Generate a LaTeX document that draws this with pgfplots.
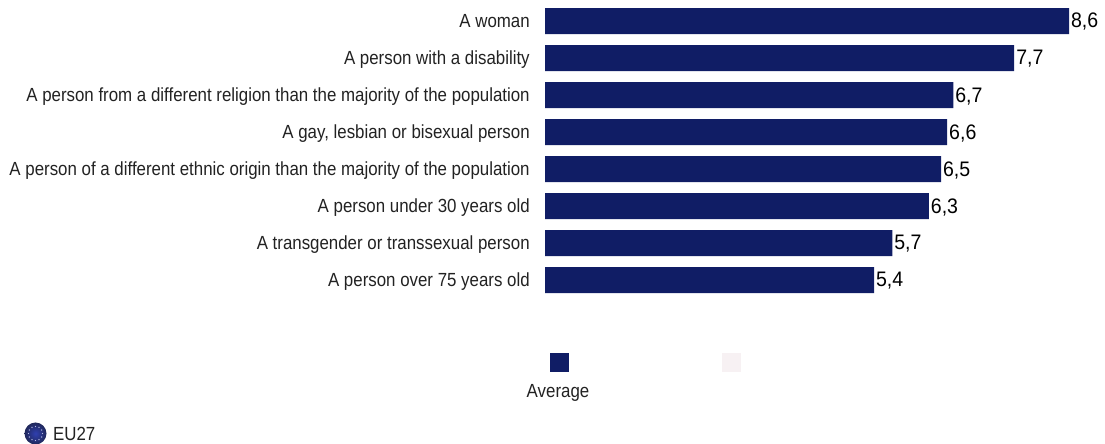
\documentclass[border=0pt]{standalone}
\usepackage{pgfplots}
\pgfplotsset{compat=1.18}
\usetikzlibrary{calc}
\usepackage{fontspec}
\setmainfont{Liberation Sans}
\definecolor{barnavy}{HTML}{101D65}
\definecolor{palepink}{HTML}{F7F1F3}
\definecolor{labelgrey}{HTML}{222222}
\definecolor{flagblue}{HTML}{2F3FB0}
\definecolor{flagedge}{HTML}{20285A}
\begin{document}
\begin{tikzpicture}[x=1pt,y=1pt]
% fixed page extent, origin at the bottom left
\path[use as bounding box] (0,0) rectangle (1105,444);
\begin{axis}[
  at={(545pt,144pt)}, anchor=south west,
  scale only axis, width=560pt, height=300pt,
  xbar, bar width=26pt, bar shift=0pt,
  xmin=0, xmax=9.19,
  y dir=reverse, ymin=-0.568, ymax=7.54,
  axis line style={draw=none},
  xtick=\empty,
  ytick={0,...,7},
  yticklabels={
    A woman,
    A person with a disability,
    A person from a different religion than the majority of the population,
    {A gay, lesbian or bisexual person},
    A person of a different ethnic origin than the majority of the population,
    A person under 30 years old,
    A transgender or transsexual person,
    A person over 75 years old},
  major tick length=0pt,
  yticklabel style={font=\fontsize{19}{22}\selectfont, text=labelgrey, xscale=0.888,
    inner sep=0pt, xshift=-17pt, yshift=-1pt, text height=14pt, text depth=4pt},
  nodes near coords,
  /pgf/number format/.cd, assume math mode=true, use comma, fixed, fixed zerofill, precision=1,
  /pgfplots/.cd,
  nodes near coords style={font=\fontsize{21}{24}\selectfont, text=black, xscale=0.93,
    inner sep=0pt, xshift=2pt, anchor=west, yshift=-1pt},
  clip=false,
]
\addplot[draw=none, fill=barnavy] coordinates {
  (8.6,0) (7.7,1) (6.7,2) (6.6,3) (6.5,4) (6.3,5) (5.7,6) (5.4,7)};
\end{axis}
% legend
\fill[barnavy] (550,72) rectangle (569,91);
\fill[palepink] (722,72) rectangle (741,91);
\node[font=\fontsize{19}{22}\selectfont, text=labelgrey, xscale=0.888, inner sep=0pt] at (558,51) {Average};
% EU marker
\shade[inner color=flagblue, outer color=flagedge] (35.5,10.5) circle (11pt);
\foreach \a in {0,30,...,330}
  \fill[white!65!flagblue] ($(35.5,10.5)+(\a:7pt)$) circle (0.7pt);
\node[font=\fontsize{19}{22}\selectfont, text=labelgrey, xscale=0.888, inner sep=0pt, anchor=west] at (53,10) {EU27};
\end{tikzpicture}
\end{document}
